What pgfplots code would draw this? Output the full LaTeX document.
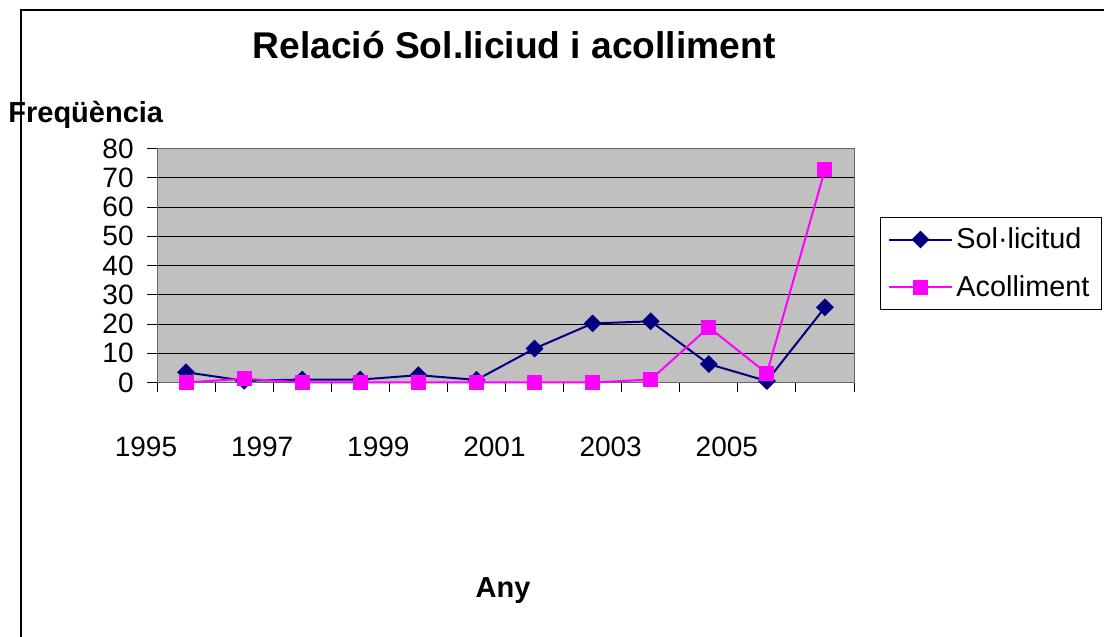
\documentclass[border=0pt]{standalone}
\usepackage{pgfplots}
\pgfplotsset{compat=1.18}
\usepackage{fontspec}
\setmainfont{Liberation Sans}

\definecolor{solblue}{HTML}{000080}
\definecolor{acmag}{HTML}{FF00FF}
\definecolor{plotgray}{HTML}{C0C0C0}

% 1 px of the reference = 0.5pt
\pgfplotstableread{
any   sol   acol
1995  3.5   0
1996  0.6   1.3
1997  1.0   0
1998  1.0   0
1999  2.5   0
2000  0.9   0
2001  11.6  0
2002  20.2  0
2003  20.9  1.0
2004  6.3   18.9
2005  0.5   3.1
2006  25.7  72.8
}\datatable

\begin{document}
\begin{tikzpicture}
\useasboundingbox (0,0) rectangle (552pt,318.5pt);
\fill[white] (0,0) rectangle (552pt,318.5pt);
% outer chart border (left and top visible)
\draw[line width=1pt] (10.5pt,0pt) -- (10.5pt,313.5pt) -- (552pt,313.5pt);

\begin{axis}[
    at={(78.5pt,127.25pt)}, anchor=south west,
    scale only axis,
    width=348.5pt, height=117pt,
    xmin=1994.5, xmax=2006.5,
    ymin=0, ymax=80,
    ytick={0,10,...,80},
    xtick={1994.5,1995.5,1996.5,1997.5,1998.5,1999.5,2000.5,2001.5,2002.5,2003.5,2004.5,2005.5,2006.5},
    xticklabels={1995,,1997,,1999,,2001,,2003,,2005,,},
    xticklabel style={anchor=base, yshift=-32pt, xshift=-5.5pt},
    tick align=outside,
    major tick length=5pt,
    xtick pos=bottom, ytick pos=left,
    tick style={black, line width=0.5pt},
    ymajorgrids,
    major grid style={black, line width=0.5pt},
    axis background/.style={fill=plotgray},
    axis line style={draw=gray!80!black, line width=0.5pt},
    ticklabel style={font=\fontsize{14}{16}\selectfont},
    yticklabel style={anchor=east, inner sep=0pt, xshift=-6.5pt},
    /pgf/number format/assume math mode=true,
    legend style={at={(1.0373,0.707)}, anchor=north west,
        draw=black, fill=white, line width=0.5pt,
        font=\fontsize{14.4}{16}\selectfont,
        row sep=8pt, inner xsep=4pt, inner ysep=3pt},
    legend cell align=left,
    legend image code/.code={
        \draw[mark repeat=2,mark phase=2,#1]
        plot coordinates {(0pt,0pt) (15.5pt,0pt) (31pt,0pt)};},
    clip=false,
]
\addplot[solblue, line width=1pt, mark=square*,
    mark options={rotate=45, solid}, mark size=2.65pt]
    table[x=any, y=sol] {\datatable};
\addlegendentry{Sol·licitud}
\addplot[acmag, line width=1pt, mark=square*,
    mark options={solid}, mark size=3.25pt]
    table[x=any, y=acol] {\datatable};
\addlegendentry{Acolliment}
\end{axis}

\node[anchor=base, font=\fontsize{18.6}{20}\selectfont\bfseries]
    at (257pt,289pt) {Relació Sol.liciud i acolliment};
\node[anchor=base west, inner sep=0pt, font=\fontsize{14.5}{16}\selectfont\bfseries]
    at (4pt,257pt) {Freqüència};
\node[anchor=base, inner sep=0pt, font=\fontsize{14.5}{16}\selectfont\bfseries]
    at (251.5pt,19.5pt) {Any};
\end{tikzpicture}
\end{document}
